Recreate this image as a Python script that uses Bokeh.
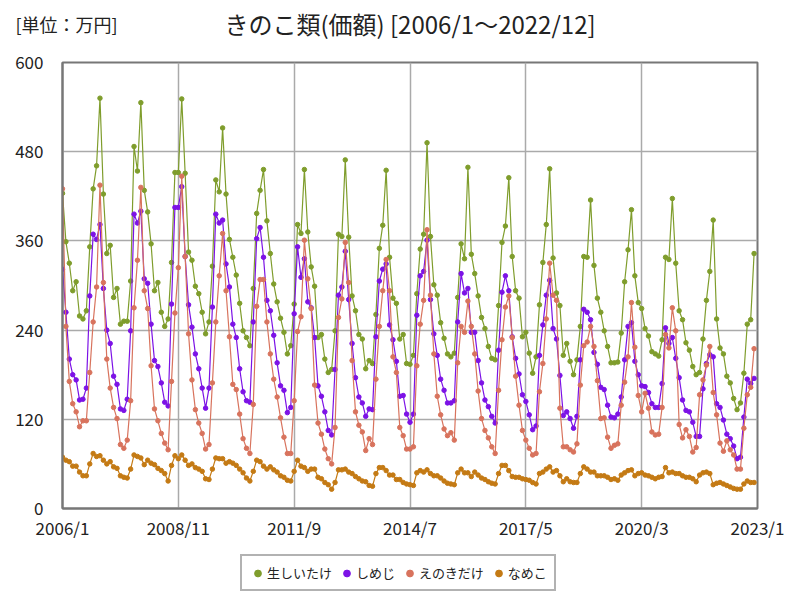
from bokeh.plotting import figure
from bokeh.layouts import column
from bokeh.models import (FixedTicker, Legend, LegendItem, Range1d, ColumnDataSource,
                          LinearAxis)
from bokeh.embed import file_html
from bokeh.resources import INLINE

# monthly values 2006/1 .. 2022/12 (万円)
shiitake = [
    424, 359, 330, 293, 305, 259, 255, 266, 352, 430, 461, 552,
    423, 343, 354, 284, 296, 248, 252, 252, 306, 487, 454, 546,
    428, 399, 356, 293, 304, 264, 245, 255, 331, 452, 452, 551,
    451, 345, 334, 299, 289, 264, 235, 251, 326, 442, 426, 512,
    423, 362, 338, 314, 276, 239, 230, 219, 296, 397, 428, 456,
    387, 343, 302, 278, 256, 237, 208, 219, 275, 382, 370, 456,
    372, 325, 299, 230, 234, 201, 183, 187, 239, 369, 366, 469,
    365, 286, 266, 234, 228, 188, 199, 195, 261, 350, 381, 455,
    338, 283, 276, 228, 234, 195, 194, 206, 289, 349, 369, 492,
    366, 301, 287, 250, 229, 208, 204, 209, 284, 356, 336, 459,
    342, 316, 286, 257, 242, 218, 202, 200, 273, 358, 380, 445,
    339, 293, 283, 231, 237, 209, 182, 204, 274, 331, 382, 457,
    337, 290, 273, 206, 222, 198, 180, 200, 245, 339, 338, 415,
    327, 283, 264, 239, 218, 196, 196, 197, 236, 305, 348, 402,
    313, 277, 269, 242, 232, 211, 208, 205, 227, 338, 335, 417,
    330, 266, 254, 223, 213, 191, 180, 183, 228, 280, 319, 388,
    255, 216, 208, 178, 169, 148, 133, 142, 182, 248, 254, 343,
]
shimeji = [
    322, 264, 201, 180, 173, 146, 147, 162, 286, 369, 362, 382,
    296, 240, 222, 178, 167, 134, 132, 147, 239, 396, 384, 400,
    309, 303, 248, 199, 191, 169, 143, 138, 275, 405, 405, 433,
    339, 274, 244, 208, 188, 162, 135, 162, 271, 396, 384, 388,
    329, 298, 248, 230, 188, 157, 145, 143, 251, 363, 378, 338,
    280, 266, 233, 196, 165, 159, 129, 136, 262, 352, 311, 336,
    278, 270, 230, 165, 151, 130, 105, 99, 187, 287, 298, 346,
    281, 222, 176, 150, 142, 124, 134, 133, 231, 306, 322, 329,
    247, 227, 198, 151, 152, 127, 116, 127, 260, 313, 319, 361,
    281, 235, 206, 174, 159, 142, 142, 145, 251, 316, 290, 296,
    237, 237, 199, 169, 146, 137, 124, 115, 213, 291, 313, 293,
    231, 202, 181, 153, 144, 126, 106, 111, 206, 247, 287, 307,
    242, 228, 179, 125, 130, 121, 108, 124, 200, 268, 264, 254,
    210, 194, 163, 160, 139, 123, 122, 127, 150, 200, 245, 250,
    198, 180, 165, 164, 156, 141, 136, 136, 168, 243, 222, 230,
    202, 176, 146, 132, 130, 116, 97, 97, 161, 195, 207, 204,
    141, 136, 119, 100, 94, 84, 67, 69, 123, 174, 168, 175,
]
enokitake = [
    430, 245, 171, 141, 130, 110, 118, 118, 183, 251, 298, 435,
    304, 201, 162, 136, 121, 86, 81, 92, 145, 270, 334, 432,
    293, 269, 192, 134, 118, 101, 88, 79, 171, 263, 324, 447,
    339, 235, 173, 133, 115, 101, 80, 86, 169, 251, 313, 370,
    293, 231, 167, 160, 127, 94, 81, 74, 140, 272, 308, 308,
    251, 208, 174, 150, 122, 96, 74, 74, 145, 238, 258, 361,
    309, 269, 166, 115, 100, 80, 67, 60, 109, 257, 282, 358,
    304, 199, 130, 112, 103, 78, 94, 86, 174, 245, 293, 335,
    293, 204, 183, 109, 98, 80, 80, 83, 192, 248, 280, 375,
    287, 208, 151, 126, 107, 98, 102, 92, 196, 245, 237, 279,
    245, 208, 158, 121, 105, 95, 83, 74, 159, 227, 271, 286,
    230, 178, 139, 105, 92, 81, 72, 74, 157, 195, 255, 330,
    287, 280, 135, 83, 83, 79, 76, 87, 166, 219, 224, 245,
    218, 172, 121, 122, 96, 81, 85, 87, 139, 170, 204, 277,
    217, 152, 130, 155, 135, 103, 99, 100, 136, 234, 216, 270,
    239, 113, 95, 106, 97, 76, 82, 153, 173, 193, 218, 156,
    126, 88, 77, 91, 79, 72, 53, 53, 108, 153, 163, 215,
]
nameko = [
    69, 65, 63, 57, 57, 49, 44, 44, 60, 74, 70, 71,
    65, 60, 63, 56, 54, 44, 42, 41, 53, 72, 70, 68,
    59, 65, 61, 59, 54, 51, 47, 37, 58, 71, 67, 72,
    65, 58, 60, 55, 53, 50, 40, 39, 53, 68, 67, 67,
    61, 63, 61, 58, 53, 48, 41, 37, 50, 65, 63, 57,
    53, 56, 52, 49, 44, 42, 38, 37, 50, 65, 57, 55,
    50, 53, 53, 42, 40, 35, 32, 26, 35, 52, 52, 53,
    49, 47, 43, 40, 37, 36, 31, 30, 47, 55, 55, 51,
    45, 45, 39, 39, 35, 33, 32, 31, 48, 51, 49, 52,
    47, 44, 44, 41, 37, 34, 33, 32, 48, 53, 48, 48,
    43, 49, 45, 41, 39, 36, 34, 33, 47, 58, 58, 51,
    43, 42, 42, 40, 39, 38, 35, 33, 47, 49, 53, 56,
    49, 51, 44, 36, 40, 36, 35, 35, 47, 56, 53, 49,
    49, 44, 44, 44, 42, 39, 40, 38, 45, 48, 51, 52,
    44, 47, 48, 45, 44, 42, 40, 42, 43, 55, 48, 49,
    47, 47, 44, 42, 42, 40, 36, 45, 48, 49, 47, 32,
    34, 35, 33, 31, 29, 27, 26, 26, 33, 37, 35, 35,
]

series_names = ["生しいたけ", "しめじ", "えのきだけ", "なめこ"]
series_colors = ["#7f9d2c", "#7c12e6", "#d8735d", "#c47a14"]
tick_months = [0, 34, 68, 102, 136, 170, 204]
tick_labels = ["2006/1", "2008/11", "2011/9", "2014/7", "2017/5", "2020/3", "2023/1"]
y_ticks = [0, 120, 240, 360, 480, 600]
title_text = "きのこ類(価額) [2006/1～2022/12]"
unit_text = "[単位：万円]"

months = list(range(len(shiitake)))
all_series = [shiitake, shimeji, enokitake, nameko]
FONT = "Noto Sans CJK JP"

# ---- main chart ----
p = figure(width=800, height=550, output_backend="svg", toolbar_location=None,
           x_range=Range1d(0, 204), y_range=Range1d(0, 600),
           min_border_left=62, min_border_right=43, min_border_top=62,
           min_border_bottom=42)
p.background_fill_color = "white"
p.outline_line_color = "#777777"
p.outline_line_width = 2

for ax in (p.xaxis[0], p.yaxis[0]):
    ax.major_tick_line_color = None
    ax.minor_tick_line_color = None
    ax.major_tick_out = 0
    ax.major_tick_in = 0
    ax.minor_tick_out = 0
    ax.minor_tick_in = 0
    ax.axis_line_color = "#777777"
    ax.axis_line_width = 2
    ax.major_label_text_font = FONT
    ax.major_label_text_font_size = "17px"
    ax.major_label_text_color = "#222222"

p.xaxis.ticker = FixedTicker(ticks=tick_months)
p.xaxis.major_label_overrides = {m: l for m, l in zip(tick_months, tick_labels)}
p.xaxis.major_label_standoff = 6
p.yaxis.ticker = FixedTicker(ticks=y_ticks)
p.yaxis.major_label_standoff = 19

p.xgrid.ticker = FixedTicker(ticks=tick_months)
p.ygrid.ticker = FixedTicker(ticks=y_ticks)
for g in (p.xgrid[0], p.ygrid[0]):
    g.grid_line_color = "#aaaaaa"
    g.grid_line_width = 1.5

# top axis used only to carry the unit note and the chart title as real text
unit_pos = 1.2
top = LinearAxis(ticker=FixedTicker(ticks=[unit_pos]),
                 major_label_overrides={unit_pos: unit_text},
                 axis_label=title_text)
top.axis_line_color = None
top.major_tick_line_color = None
top.minor_tick_line_color = None
top.major_label_text_font = FONT
top.major_label_text_font_size = "18px"
top.major_label_text_color = "#222222"
top.major_label_standoff = 20
top.axis_label_text_font = FONT
top.axis_label_text_font_size = "24px"
top.axis_label_text_font_style = "normal"
top.axis_label_text_color = "#222222"
top.axis_label_standoff = -33
p.add_layout(top, "above")

for name, color, vals in zip(series_names, series_colors, all_series):
    src = ColumnDataSource(dict(x=months, y=vals))
    p.line("x", "y", source=src, line_color=color, line_width=1.2)
    p.scatter("x", "y", source=src, size=4.5, fill_color=color, line_color=color)

# ---- legend strip below the chart ----
# (its key renderers hold the first data point, which lies outside this strip's ranges)
foot = figure(width=800, height=50, output_backend="svg", toolbar_location=None,
              x_range=Range1d(0, 1), y_range=Range1d(-1, 0), min_border=0)
foot.axis.visible = False
foot.grid.visible = False
foot.outline_line_color = None
items = []
for name, color, vals in zip(series_names, series_colors, all_series):
    r = foot.scatter(x=months[:1], y=vals[:1], size=4.5,
                     fill_color=color, line_color=color)
    items.append(LegendItem(label=name, renderers=[r]))

legend = Legend(items=items, orientation="horizontal", location=(178, 9))
legend.label_text_font = FONT
legend.label_text_font_size = "13px"
legend.label_text_color = "#222222"
legend.glyph_width = 17
legend.glyph_height = 18
legend.label_standoff = 1
legend.spacing = 6
legend.padding = 7
legend.margin = 0
legend.border_line_color = "#666666"
legend.border_line_width = 2
legend.background_fill_alpha = 1
foot.add_layout(legend, "center")

layout = column(p, foot, spacing=0)
open("out.html", "w").write(file_html(layout, INLINE))
